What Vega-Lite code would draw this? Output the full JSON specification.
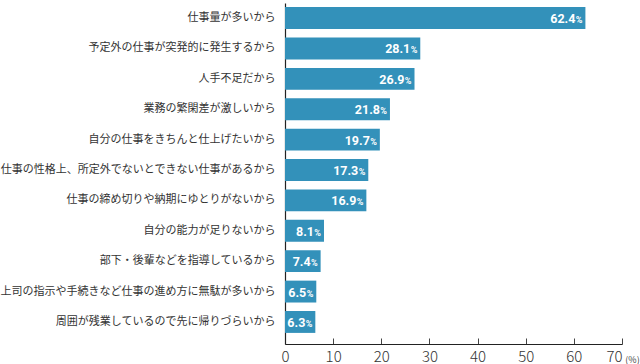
{
  "$schema": "https://vega.github.io/schema/vega-lite/v6.json",
  "autosize": {"type": "none"},
  "width": 337,
  "height": 341,
  "padding": {"left": 285, "top": 3, "right": 18, "bottom": 20},
  "background": "white",
  "config": {"view": {"stroke": null}, "font": "Noto Sans CJK JP"},
  "data": {"values": [
    {"reason": "仕事量が多いから", "value": 62.4},
    {"reason": "予定外の仕事が突発的に発生するから", "value": 28.1},
    {"reason": "人手不足だから", "value": 26.9},
    {"reason": "業務の繁閑差が激しいから", "value": 21.8},
    {"reason": "自分の仕事をきちんと仕上げたいから", "value": 19.7},
    {"reason": "仕事の性格上、所定外でないとできない仕事があるから", "value": 17.3},
    {"reason": "仕事の締め切りや納期にゆとりがないから", "value": 16.9},
    {"reason": "自分の能力が足りないから", "value": 8.1},
    {"reason": "部下・後輩などを指導しているから", "value": 7.4},
    {"reason": "上司の指示や手続きなど仕事の進め方に無駄が多いから", "value": 6.5},
    {"reason": "周囲が残業しているので先に帰りづらいから", "value": 6.3}
  ]},
  "encoding": {
    "y": {
      "field": "reason", "type": "nominal", "sort": null,
      "scale": {"paddingInner": 0.28, "paddingOuter": 0.25, "align": 0.27},
      "axis": {"title": null, "domain": true, "domainColor": "#222", "domainWidth": 1.2, "ticks": false, "labelPadding": 10, "labelFontSize": 11, "labelColor": "#333", "labelLimit": 300}
    }
  },
  "layer": [
    {
      "mark": {"type": "bar", "color": "#3391ba"},
      "encoding": {
        "x": {
          "field": "value", "type": "quantitative",
          "scale": {"domain": [0, 70], "nice": false},
          "axis": {"title": "(%)", "titleFontSize": 9, "titleFontWeight": "normal", "titleColor": "#444", "titleX": 347, "titleY": 15, "titleAnchor": "end", "titleAlign": "center", "titleBaseline": "middle",
            "values": [0, 10, 20, 30, 40, 50, 60, 70], "grid": false, "domainColor": "#222", "domainWidth": 1.2, "tickColor": "#444", "tickSize": -6, "labelPadding": 11, "labelFontSize": 15, "labelFontWeight": 300, "labelColor": "#333", "labelFlush": false,
            "labelAlign": {"condition": {"test": "datum.value == 70", "value": "right"}, "value": "center"}}
        }
      }
    },
    {
      "mark": {"type": "text", "align": "right", "baseline": "middle", "dx": -10, "dy": 1, "font": "Roboto", "fontSize": 12.5, "fontWeight": "bold", "color": "white"},
      "encoding": {
        "x": {"field": "value", "type": "quantitative"},
        "text": {"field": "value", "type": "quantitative", "format": ".1f"}
      }
    },
    {
      "mark": {"type": "text", "align": "right", "baseline": "middle", "dx": -3, "dy": 2, "font": "Roboto", "fontSize": 9, "fontWeight": "bold", "color": "white", "text": "%"},
      "encoding": {
        "x": {"field": "value", "type": "quantitative"}
      }
    }
  ]
}
